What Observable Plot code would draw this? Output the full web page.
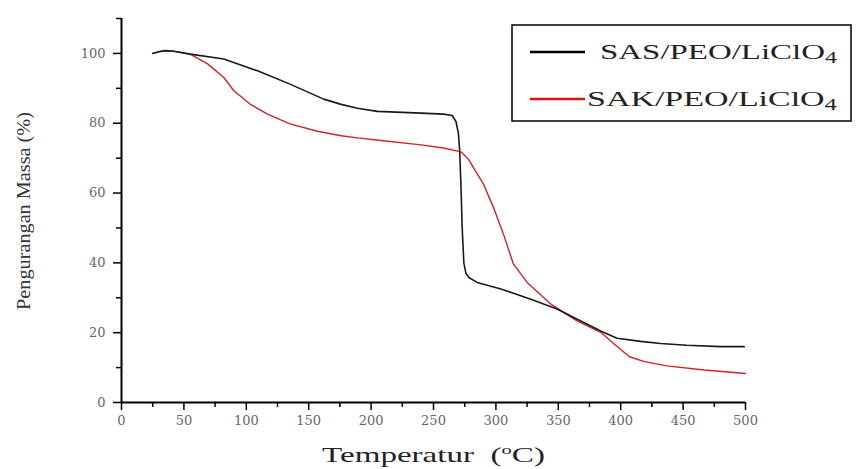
<!DOCTYPE html>
<html>
<head>
<meta charset="utf-8">
<script src="https://cdn.jsdelivr.net/npm/d3@7"></script>
<script src="https://cdn.jsdelivr.net/npm/@observablehq/plot@0.6"></script>
<style>
  html, body { margin: 0; padding: 0; background: #fff; }
</style>
</head>
<body>
<div id="chart"></div>
<script>
// ---- data ----
const sasTemp = [25, 30, 35, 42, 55, 82, 109, 135, 162, 176, 189, 205, 240, 258, 265, 268, 270, 271, 272, 273, 274.3, 276, 278.3, 285, 304, 328, 349, 362, 384, 397, 416, 432, 453, 480, 499];
const sasMass = [100.0, 100.5, 100.8, 100.6, 99.8, 98.4, 95.0, 91.2, 86.9, 85.4, 84.3, 83.4, 82.9, 82.6, 82.2, 80.5, 77.0, 72.0, 62.0, 50.0, 40.0, 37.0, 35.8, 34.4, 32.5, 29.6, 26.8, 24.4, 20.5, 18.4, 17.5, 16.9, 16.4, 16.0, 16.0];
const sakTemp = [25, 30, 35, 42, 55, 69, 82, 90, 103, 117, 135, 157, 176, 189, 210, 240, 258, 272, 278, 282, 290, 298, 306, 314, 325, 344, 365, 384, 395, 407, 419, 437, 467, 500];
const sakMass = [100.0, 100.5, 100.8, 100.6, 99.8, 97.0, 93.1, 89.3, 85.5, 82.6, 79.8, 77.7, 76.4, 75.8, 75.0, 73.8, 72.9, 71.8, 69.7, 67.3, 62.6, 55.9, 48.3, 39.7, 34.4, 28.2, 23.4, 20.1, 16.7, 13.1, 11.7, 10.5, 9.3, 8.3];

const seriesNames = ["SAS/PEO/LiClO", "SAK/PEO/LiClO"];
const seriesSub = ["4", "4"];
const seriesColors = ["#1a1a1a", "#d0202e"];

const xMajor = [0, 50, 100, 150, 200, 250, 300, 350, 400, 450, 500];
const xMinor = [25, 75, 125, 175, 225, 275, 325, 375, 425, 475];
const yMajor = [0, 20, 40, 60, 80, 100];
const yMinor = [10, 30, 50, 70, 90, 110];

const xLabel = "Temperatur";
const yLabel = "Pengurangan Massa (%)";

const sas = sasTemp.map((t, i) => ({t, m: sasMass[i], s: seriesNames[0]}));
const sak = sakTemp.map((t, i) => ({t, m: sakMass[i], s: seriesNames[1]}));

const W = 865, H = 469;
const tickFont = "'DejaVu Serif', serif";
const svg = Plot.plot({
  width: W,
  height: H,
  marginLeft: 121,
  marginRight: 120,
  marginTop: 18,
  marginBottom: 67,
  style: {fontFamily: tickFont, fontSize: "13px", background: "#fff", overflow: "visible"},
  x: {domain: [0, 500]},
  y: {domain: [0, 110]},
  marks: [
    Plot.axisX(xMajor, {tickSize: 8, tickPadding: 5, stroke: "#000", strokeWidth: 1.5, fill: "#666", label: null, fontSize: 13}),
    Plot.axisX(xMinor, {tickSize: 5, stroke: "#000", strokeWidth: 1.5, tickFormat: () => "", label: null}),
    Plot.axisY(yMajor, {tickSize: 8, tickPadding: 8, stroke: "#000", strokeWidth: 1.5, fill: "#666", label: null, fontSize: 13}),
    Plot.axisY(yMinor, {tickSize: 5, stroke: "#000", strokeWidth: 1.5, tickFormat: () => "", label: null}),
    Plot.line(sak, {x: "t", y: "m", stroke: seriesColors[1], strokeWidth: 1.4}),
    Plot.line(sas, {x: "t", y: "m", stroke: seriesColors[0], strokeWidth: 1.6}),
    Plot.ruleX([0], {stroke: "#000", strokeWidth: 2}),
    Plot.ruleY([0], {stroke: "#000", strokeWidth: 2})
  ]
});

document.getElementById("chart").appendChild(svg);

const sel = d3.select(svg);
const serif = "'Liberation Serif', 'Times New Roman', serif";

// scale a text group horizontally so it spans targetW starting at x0
function fitWidth(g, x0, y0, targetW, rotate) {
  const bb = g.node().getBBox();
  const s = targetW / bb.width;
  if (rotate) {
    g.attr("transform", `translate(${x0},${y0}) rotate(-90) scale(${s},1) translate(${-bb.x - bb.width / 2},0)`);
  } else {
    g.attr("transform", `translate(${x0},${y0}) scale(${s},1) translate(${-bb.x},0)`);
  }
}

// y axis title (rotated, centred)
const yg = sel.append("g");
yg.append("text")
  .attr("font-family", serif)
  .attr("font-size", 19)
  .attr("fill", "#333")
  .text(yLabel);
fitWidth(yg, 30, 211, 198, true);

// x axis title with superscript
const xg = sel.append("g");
const xt = xg.append("text")
  .attr("font-family", serif)
  .attr("font-size", 21)
  .attr("fill", "#222");
xt.append("tspan").text(xLabel + "  (");
xt.append("tspan").attr("font-size", 13).attr("dy", -8).text("o");
xt.append("tspan").attr("dy", 8).text("C)");
fitWidth(xg, 322, 462, 223, false);

// legend
const lg = sel.append("g");
lg.append("rect").attr("x", 512).attr("y", 25).attr("width", 339).attr("height", 96)
  .attr("fill", "#fff").attr("stroke", "#000").attr("stroke-width", 1.5);
const legY = [52, 99];
const legTx = [600, 587];
seriesNames.forEach((n, i) => {
  lg.append("line").attr("x1", 530).attr("x2", 585).attr("y1", legY[i]).attr("y2", legY[i])
    .attr("stroke", i === 0 ? "#000" : "#dd1111").attr("stroke-width", 2.5);
  const g = lg.append("g");
  const t = g.append("text")
    .attr("font-family", serif).attr("font-size", 22).attr("fill", "#222");
  t.append("tspan").text(n);
  t.append("tspan").attr("font-size", 16).attr("dy", 4).text(seriesSub[i]);
  fitWidth(g, legTx[i], legY[i] + 7, 837 - legTx[i], false);
});
</script>
</body>
</html>
